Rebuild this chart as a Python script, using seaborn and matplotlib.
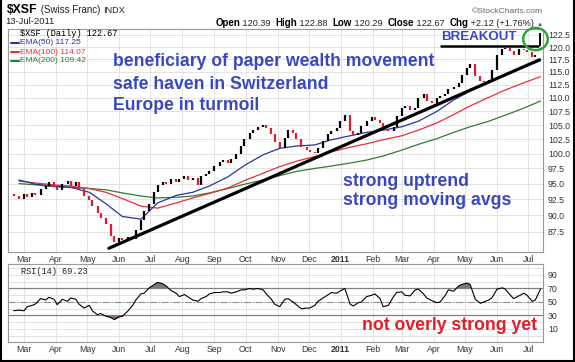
import matplotlib
matplotlib.use('Agg')
import matplotlib.pyplot as plt
from matplotlib.patches import Ellipse
from matplotlib.lines import Line2D
from matplotlib.ticker import FixedLocator, FixedFormatter, NullLocator, MultipleLocator
from matplotlib.offsetbox import TextArea, HPacker, AnchoredOffsetbox
import seaborn as sns
import pandas as pd
import numpy as np

# price bars, one every 3 trading days, ending 13-Jul-2011
last_day = '2011-07-13'
first_open = 93.4
closes = [
    93.0, 92.6, 93.3, 92.8, 93.5, 93.2, 94.2, 94.6, 95.2, 94.4,
    94.0, 94.9, 95.4, 94.6, 95.3, 94.1, 93.0, 92.4, 91.5, 90.3,
    89.6, 88.6, 86.9, 86.0, 86.5, 86.2, 86.7, 86.4, 87.8, 89.2,
    90.6, 91.8, 93.6, 94.8, 95.3, 95.0, 95.7, 95.2, 95.8, 96.3,
    95.6, 95.9, 94.8, 96.2, 96.6, 97.1, 97.9, 98.6, 98.9, 98.4,
    99.0, 99.9, 101.3, 102.6, 103.6, 104.1, 104.6, 105.0, 104.5, 103.4,
    102.0, 100.9, 102.7, 104.1, 103.6, 102.5, 101.2, 100.6, 100.2, 100.1,
    101.0, 102.2, 103.4, 104.0, 104.5, 105.8, 106.9, 104.0, 103.2, 103.6,
    104.8, 105.7, 106.4, 106.0, 105.3, 104.2, 104.0, 104.7, 106.6, 108.1,
    108.4, 107.7, 108.1, 110.0, 110.8, 109.4, 109.0, 109.9, 110.3, 110.8,
    111.6, 112.0, 112.8, 114.3, 115.8, 116.6, 114.2, 113.3, 113.0, 113.5,
    115.4, 118.4, 119.6, 119.8, 119.1, 118.3, 119.5, 119.3, 119.0, 117.9,
    118.4, 122.67,
]
rsi14 = [
    37, 38, 37, 43, 45, 47, 55, 53, 57, 54,
    46, 54, 51, 56, 54, 47, 41, 45, 37, 31,
    33, 29, 27, 24, 28, 29, 36, 45, 53, 62,
    63, 71, 76, 79, 77, 74, 67, 63, 58, 61,
    58, 53, 51, 55, 58, 62, 64, 64, 65, 65,
    63, 65, 68, 68, 70, 69, 70, 68, 62, 54,
    47, 43, 54, 55, 50, 46, 40, 41, 41, 45,
    51, 56, 61, 64, 63, 66, 70, 47, 44, 49,
    50, 58, 60, 62, 55, 43, 45, 58, 64, 65,
    60, 59, 68, 69, 62, 56, 52, 49, 50, 60,
    68, 66, 74, 76, 78, 76, 54, 48, 50, 53,
    56, 69, 71, 69, 60, 55, 59, 63, 60, 51,
    53, 69.23,
]
last_open, last_high, last_low, last_close = 120.39, 122.88, 120.29, 122.67

# moving averages, one point every 12 trading days
ema50 = [95.6, 94.9, 94.6, 94.4, 93.6, 91.8, 89.8, 89.4, 91.9, 93.1,
         93.6, 94.6, 96.1, 98.0, 99.8, 100.9, 101.3, 101.5, 102.4, 103.1,
         103.7, 104.1, 104.7, 105.7, 107.5, 109.6, 111.3, 112.9, 114.5, 116.0, 117.25]
ema100 = [95.4, 95.1, 94.8, 94.6, 94.2, 93.6, 92.6, 91.4, 91.1, 91.9,
          92.7, 93.4, 94.3, 95.5, 96.7, 97.8, 98.7, 99.5, 100.3, 101.1,
          101.7, 102.4, 103.1, 104.1, 105.4, 106.9, 108.5, 110.1, 111.5, 112.9, 114.07]
ema200 = [95.0, 94.8, 94.5, 94.4, 94.2, 94.0, 93.5, 93.0, 92.7, 92.8,
          93.0, 93.5, 94.2, 94.9, 95.6, 96.3, 97.0, 97.5, 97.9, 98.4,
          98.9, 99.6, 100.6, 101.6, 102.6, 103.7, 104.7, 105.7, 106.8, 108.1, 109.42]

trend_dates = ['2010-05-22', '2011-07-12']
trend_prices = [85.05, 117.4]
breakout_dates = ['2011-04-08', '2011-07-11']
breakout_level = 120.3

price_ticks = [87.5, 90.0, 92.5, 95.0, 97.5, 100.0, 102.5, 105.0, 107.5,
               110.0, 112.5, 115.0, 117.5, 120.0, 122.5]
rsi_ticks = [10, 30, 50, 70, 90]
month_labels = ['Mar', 'Apr', 'May', 'Jun', 'Jul', 'Aug', 'Sep', 'Oct', 'Nov',
                'Dec', '2011', 'Feb', 'Mar', 'Apr', 'May', 'Jun', 'Jul']

bar_dates = pd.date_range(end=last_day, periods=len(closes), freq='3B')
ema_dates = pd.date_range(end=last_day, periods=len(ema50), freq='12B')
month_starts = pd.date_range('2010-03-01', '2011-07-01', freq='MS')

sns.set_style('white')
plt.rcParams['font.family'] = ['Liberation Sans', 'DejaVu Sans']

W, H = 575, 362
fig = plt.figure(figsize=(W / 100, H / 100), dpi=100)


def fx(px):
    return px / W


def fy(py):
    return 1 - py / H


ax = fig.add_axes([fx(8), fy(252), 535 / W, 223 / H])
ax2 = fig.add_axes([fx(8), fy(342), 535 / W, 78 / H])

BLUE_TXT = '#3a48bf'
RED = '#d9202e'

# candles
c = np.array(closes)
o = np.array([first_open] + closes[:-1])
lo, hi = np.minimum(o, c), np.maximum(o, c)
up = c >= o
ax.vlines(bar_dates[:-1][up[:-1]], lo[:-1][up[:-1]], hi[:-1][up[:-1]], color='black', lw=1.6, zorder=3)
ax.vlines(bar_dates[:-1][~up[:-1]], lo[:-1][~up[:-1]], hi[:-1][~up[:-1]], color=RED, lw=1.6, zorder=3)
ax.vlines([bar_dates[-1]], [last_low], [last_high], color='black', lw=1.4, zorder=3)

sns.lineplot(x=ema_dates, y=ema200, ax=ax, color='#2f7d2f', lw=0.9)
sns.lineplot(x=ema_dates, y=ema100, ax=ax, color='#e8303a', lw=0.9)
sns.lineplot(x=ema_dates, y=ema50, ax=ax, color='#2a349a', lw=0.9)

ax.plot(pd.to_datetime(trend_dates), trend_prices, color='black', lw=2.3, zorder=4)
ax.plot(pd.to_datetime(breakout_dates), [breakout_level] * 2, color='black', lw=1.8, zorder=4)
ax.add_patch(Ellipse((0.986, 0.955), 0.046, 0.1, transform=ax.transAxes, fill=False,
                     edgecolor='#2ea83a', lw=1.8, clip_on=False, zorder=5))

xlim = (pd.Timestamp('2010-02-13 12:00'), pd.Timestamp('2011-07-15 10:00'))
ax.set_yscale('log')
ax.set_ylim(84.51, 123.76)
ax.set_xlim(*xlim)
ax.yaxis.set_major_locator(FixedLocator(price_ticks))
ax.yaxis.set_major_formatter(FixedFormatter([f'{t:.1f}' for t in price_ticks]))
ax.yaxis.set_minor_locator(NullLocator())

# RSI panel
ax2.axhline(70, color='#808080', lw=0.9)
ax2.axhline(30, color='#808080', lw=0.9)
ax2.axhline(50, color='#909090', lw=0.8, ls='-.')
r = np.array(rsi14, dtype=float)
ax2.fill_between(bar_dates, r, 70, where=r >= 70, interpolate=True, color='#7a7a7a', lw=0)
ax2.fill_between(bar_dates, r, 30, where=r <= 30, interpolate=True, color='#8c6c6c', lw=0)
sns.lineplot(x=bar_dates, y=rsi14, ax=ax2, color='black', lw=0.8)
ax2.set_ylim(-9.3, 106.3)
ax2.set_xlim(*xlim)
ax2.set_yticks(rsi_ticks)
ax2.yaxis.set_minor_locator(MultipleLocator(10))

for a in (ax, ax2):
    a.set_xlabel('')
    a.set_ylabel('')
    a.yaxis.tick_right()
    a.set_xticks(month_starts)
    a.set_xticklabels(month_labels)
    a.tick_params(axis='both', which='both', length=0, labelsize=6.3, labelcolor='#333333')
    a.tick_params(axis='x', pad=2.5)
    a.tick_params(axis='y', pad=3.5)
    a.grid(True, which='both', color='#dedede', lw=0.6)
    a.set_axisbelow(True)
    for s in a.spines.values():
        s.set_color('#9a9a9a')
        s.set_linewidth(0.8)
    for lbl in a.get_xticklabels():
        if lbl.get_text() == '2011':
            lbl.set_fontweight('bold')


def text_row(pieces, x, y, loc):
    boxes = [TextArea(s, textprops=dict(fontsize=fs, fontweight=fw, color=col,
                                        family=['Liberation Sans', 'DejaVu Sans']))
             for s, fs, fw, col in pieces]
    pack = HPacker(children=boxes, align='baseline', pad=0, sep=0)
    fig.add_artist(AnchoredOffsetbox(loc=loc, child=pack, pad=0, borderpad=0, frameon=False,
                                     bbox_to_anchor=(fx(x), fy(y)),
                                     bbox_transform=fig.transFigure))


text_row([(r'\$XSF', 8.8, 'bold', 'black'), (' (Swiss Franc) ', 7, 'normal', '#222'),
          ('INDX', 6.6, 'normal', '#222')], 7, 10, 'center left')
fig.text(fx(5), fy(22), '13-Jul-2011', fontsize=6.8, va='center', color='#222')
fig.text(fx(543), fy(11.5), '©StockCharts.com', fontsize=6.1, va='center', ha='right', color='#666')
text_row([('Open', 7, 'bold', 'black'), (f' {last_open:.2f}  ', 6.6, 'normal', '#222'),
          ('High', 7, 'bold', 'black'), (f' {last_high:.2f}  ', 6.6, 'normal', '#222'),
          ('Low', 7, 'bold', 'black'), (f' {last_low:.2f}  ', 6.6, 'normal', '#222'),
          ('Close', 7, 'bold', 'black'), (f' {last_close:.2f}  ', 6.6, 'normal', '#222'),
          ('Chg', 7, 'bold', 'black'), (' +2.12 (+1.76%) ', 6.6, 'normal', '#222'),
          ('▲', 4.5, 'normal', '#555')], 543, 22.5, 'center right')

# legends inside panels
fig.text(fx(20), fy(33), r'\$XSF (Daily) 122.67', family='Liberation Mono', fontsize=6.2,
         va='center', color='black')
for yy, name, val, col in [(42.7, 'EMA(50)', ema50[-1], '#2a349a'),
                           (52.0, 'EMA(100)', ema100[-1], '#e8303a'),
                           (61.0, 'EMA(200)', ema200[-1], '#2f7d2f')]:
    fig.add_artist(Line2D([fx(11), fx(19)], [fy(yy), fy(yy)], color=col, lw=1.5,
                          transform=fig.transFigure))
    fig.text(fx(20), fy(yy), f'{name} {val:.2f}', fontsize=6, va='center', color=col)
fig.text(fx(21), fy(271), f'RSI(14) {rsi14[-1]:.2f}', family='Liberation Mono', fontsize=6.2,
         va='center', color='#222')

# chart notes
note = dict(fontsize=12.7, fontweight='bold', color=BLUE_TXT, va='baseline')
fig.text(fx(113), fy(66.5), 'beneficiary of paper wealth movement', **note)
fig.text(fx(113), fy(89.3), 'safe haven in Switzerland', **note)
fig.text(fx(113), fy(110), 'Europe in turmoil', **note)
fig.text(fx(343), fy(185.7), 'strong uptrend', **note)
fig.text(fx(343), fy(205), 'strong moving avgs', **note)
fig.text(fx(441), fy(40), 'BREAKOUT', fontsize=9.6, fontweight='bold', color=BLUE_TXT, va='baseline')
fig.text(fx(362), fy(330), 'not overly strong yet', fontsize=12.7, fontweight='bold',
         color='#e01e2a', va='baseline')

for xs, ys in [([1, 1], [0, H]), ([0, W], [360.5, 360.5]), ([573.5, 573.5], [0, H])]:
    fig.add_artist(Line2D([fx(v) for v in xs], [fy(v) for v in ys], color='black', lw=1.5,
                          transform=fig.transFigure))

fig.savefig('out.png', dpi=100)
